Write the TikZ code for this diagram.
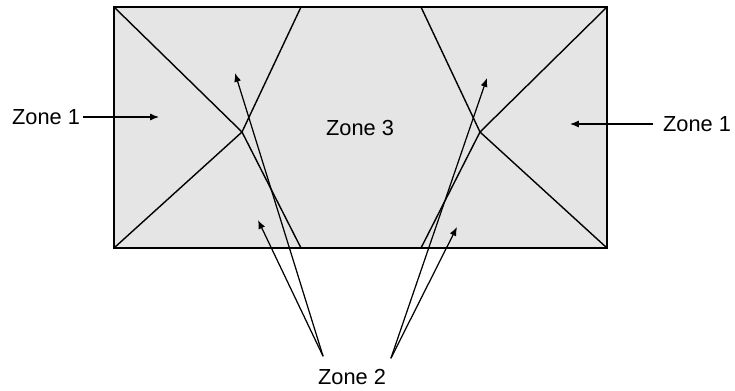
\documentclass[tikz,border=0pt]{standalone}
\usepackage{fontspec}
\setmainfont{Liberation Sans}
\usetikzlibrary{positioning,calc,arrows.meta}
\begin{document}
\begin{tikzpicture}[
  x=0.02cm, y=-0.02cm,
  font=\fontsize{12.4}{15}\selectfont,
  >={Latex[length=5pt,width=4pt]},
  zone/.style={inner sep=1.5pt},
  edge/.style={line width=0.8pt},
  pointer/.style={->, line width=0.7pt},
]
\useasboundingbox (0,0) rectangle (735,390);

% outer box
\coordinate (TL) at (114,7);
\coordinate (TR) at (607,7);
\coordinate (BR) at (607,248);
\coordinate (BL) at (114,248);
\draw[edge, fill=black!10] (TL) rectangle (BR);

% crossing lines
\coordinate (PL) at (242,132);
\coordinate (PR) at (480,132);
\coordinate (TLi) at (301,7);
\coordinate (BLi) at (301,248);
\coordinate (TRi) at (421,7);
\coordinate (BRi) at (421,248);
\draw[edge] (TL) -- (PL) -- (BLi);
\draw[edge] (TLi) -- (PL) -- (BL);
\draw[edge] (TR) -- (PR) -- (BRi);
\draw[edge] (TRi) -- (PR) -- (BR);

% labels
\node[zone] (z1L) at (46,117) {Zone 1};
\node[zone] (z1R) at (697,124) {Zone 1};
\node[zone] (z3) at (360,128) {Zone 3};
\node[zone] (z2) at (352,377) {Zone 2};

\coordinate (a1L) at (159,117);
\coordinate (a1R) at (570,124);
\coordinate (a2a) at (235,73);
\coordinate (a2b) at (258,220);
\coordinate (a2c) at (487,78);
\coordinate (a2d) at (457,227);

\draw[pointer] (z1L.east) -- (a1L);
\draw[pointer] ($(z1R.west)+(-7,0)$) -- (a1R);
\draw[pointer] ($(z2.north west)+(8,-10)$) -- (a2a);
\draw[pointer] ($(z2.north west)+(8,-10)$) -- (a2b);
\draw[pointer] ($(z2.north east)+(2,-8)$) -- (a2c);
\draw[pointer] ($(z2.north east)+(2,-8)$) -- (a2d);

\end{tikzpicture}
\end{document}
